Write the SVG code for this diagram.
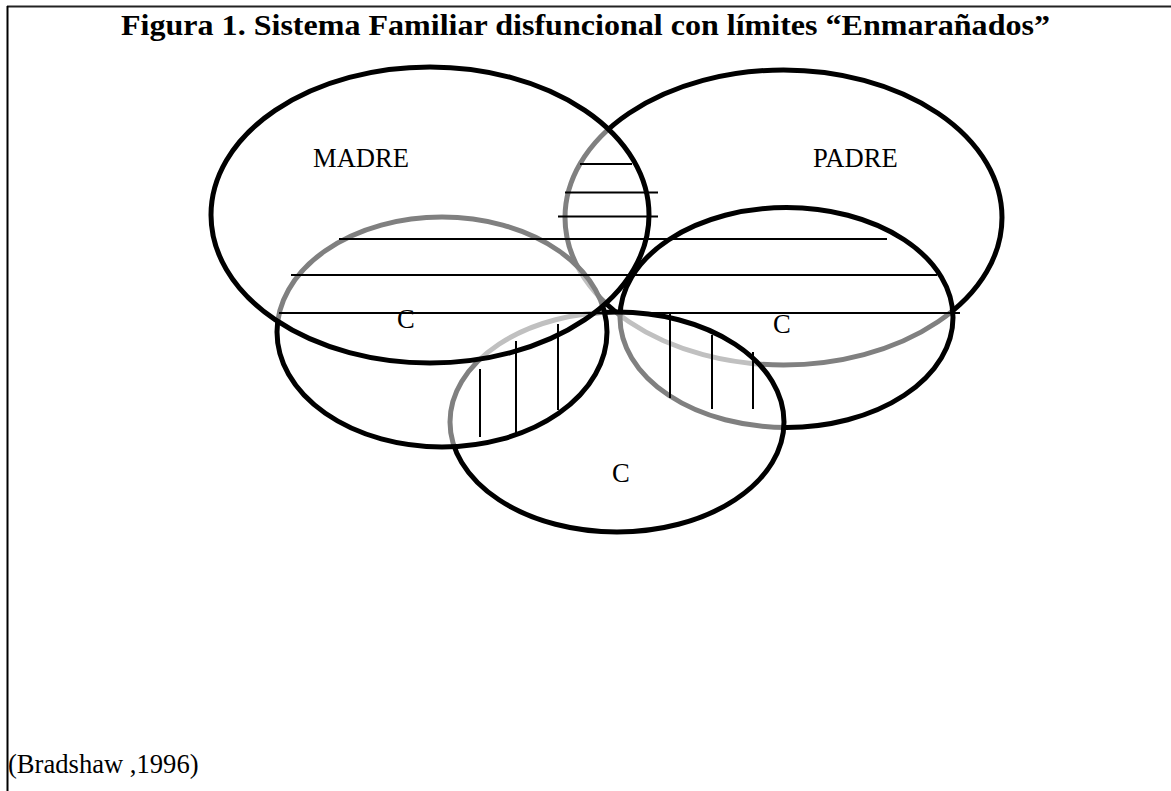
<svg xmlns="http://www.w3.org/2000/svg" width="1171" height="791" viewBox="0 0 1171 791">
<style>
.ell{fill:#fff;fill-opacity:0.5;stroke:#000;stroke-width:5}
.hatch line{stroke:#000;stroke-width:2}
.lbl{font-family:"Liberation Serif","Times New Roman",serif;font-size:26.6px;fill:#000}
.title{font-family:"Liberation Serif","Times New Roman",serif;font-size:30px;font-weight:bold;fill:#000}
</style>
<rect width="1171" height="791" fill="#fff"/>
<g id="frame">
<line x1="7" y1="6.5" x2="1171" y2="6.5" stroke="#222" stroke-width="2"/>
<line x1="7.5" y1="6" x2="7.5" y2="791" stroke="#000" stroke-width="2"/>
</g>
<text class="title" x="121" y="35" textLength="929" lengthAdjust="spacingAndGlyphs">Figura 1. Sistema Familiar disfuncional con límites “Enmarañados”</text>
<g id="padre"><ellipse class="ell" cx="783.5" cy="217.5" rx="218.5" ry="147.5"/></g>
<g id="hijo-derecha"><ellipse class="ell" cx="786.5" cy="317.5" rx="166.5" ry="110"/></g>
<g id="hijo-abajo"><ellipse class="ell" cx="617" cy="422" rx="167" ry="110"/></g>
<g id="hijo-izquierda"><ellipse class="ell" cx="442" cy="332" rx="165" ry="115"/></g>
<g id="madre"><ellipse class="ell" cx="430" cy="215" rx="219" ry="148"/></g>
<g id="connectors" class="hatch">
<line x1="580" y1="164" x2="632" y2="164"/>
<line x1="565" y1="192.5" x2="658" y2="192.5"/>
<line x1="558" y1="216.5" x2="658" y2="216.5"/>
<line x1="339" y1="239" x2="887" y2="239"/>
<line x1="291" y1="275" x2="937" y2="275"/>
<line x1="279" y1="313" x2="960" y2="313"/>
<line x1="480" y1="369" x2="480" y2="437"/>
<line x1="516" y1="341" x2="516" y2="433"/>
<line x1="558" y1="324" x2="558" y2="410"/>
<line x1="670" y1="313" x2="670" y2="398"/>
<line x1="712" y1="335" x2="712" y2="409"/>
<line x1="753" y1="352" x2="753" y2="409"/>
</g>
<g id="labels">
<text class="lbl" x="313" y="167">MADRE</text>
<text class="lbl" x="813" y="167">PADRE</text>
<text class="lbl" x="397" y="328">C</text>
<text class="lbl" x="773" y="333">C</text>
<text class="lbl" x="612" y="482">C</text>
<text class="lbl" x="8" y="773">(Bradshaw ,1996)</text>
</g>
</svg>
